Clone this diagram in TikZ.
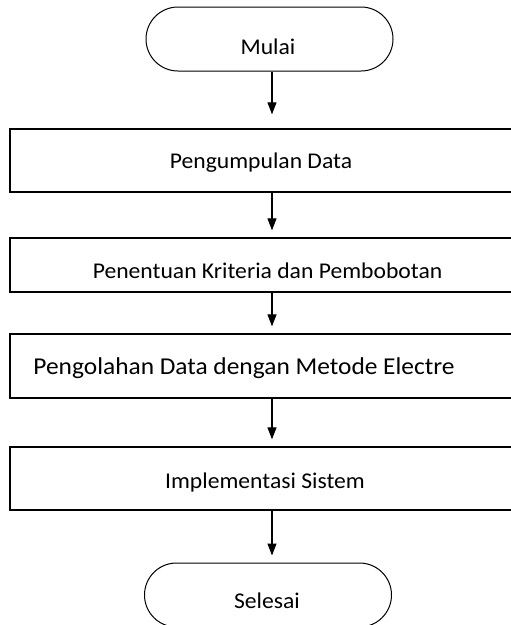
\documentclass[tikz,border=0pt]{standalone}
\usepackage{fontspec}
\setmainfont{Carlito}[FakeStretch=1.05]
\usetikzlibrary{arrows.meta}
\tikzset{
  procbox/.style={draw,line width=1.3pt,minimum width=520pt,inner sep=0pt},
  termbox/.style={draw,line width=1pt,rounded corners=32pt,minimum width=247pt,minimum height=64pt,inner sep=0pt},
  txt/.style={anchor=base,font=\fontsize{22.5}{26}\selectfont,inner sep=0pt},
  flow/.style={-{Triangle[width=9pt,length=12pt]},line width=1.1pt,shorten >=7pt}
}
\begin{document}
\begin{tikzpicture}[x=1pt,y=-1pt]
\useasboundingbox (0,0) rectangle (511,625);
\clip (0,0) rectangle (511,625);
\node[termbox] (mulai) at (269.5,39) {};
\node[txt] (tmulai) at (268,54) {Mulai};
\foreach \n/\y/\h/\tx/\ty/\fs/\t in {
  1/160.5/63/261/168/22.5/Pengumpulan Data,
  2/265/54/267.5/278/22.5/Penentuan Kriteria dan Pembobotan,
  3/366/64/244/374/24.2/Pengolahan Data dengan Metode Electre,
  4/478.5/63/265/488/22.5/Implementasi Sistem%
}
{
\node[procbox,minimum height=\h] (b\n) at (270,\y) {};
\node[txt,font=\fontsize{\fs}{26}\selectfont] (t\n) at (\tx,\ty) {\t};
}
\node[termbox] (selesai) at (268,595) {};
\node[txt] (tselesai) at (267,608) {Selesai};
% arrows
\coordinate (ax) at (272,0);
\draw[flow,shorten >=14pt] (mulai.south -| ax) -- (b1.north -| ax);
\foreach \a/\b in {b1/b2,b2/b3,b3/b4}
  \draw[flow] (\a.south -| ax) -- (\b.north -| ax);
\draw[flow] (b4.south -| ax) -- (selesai.north -| ax);
\end{tikzpicture}
\end{document}
